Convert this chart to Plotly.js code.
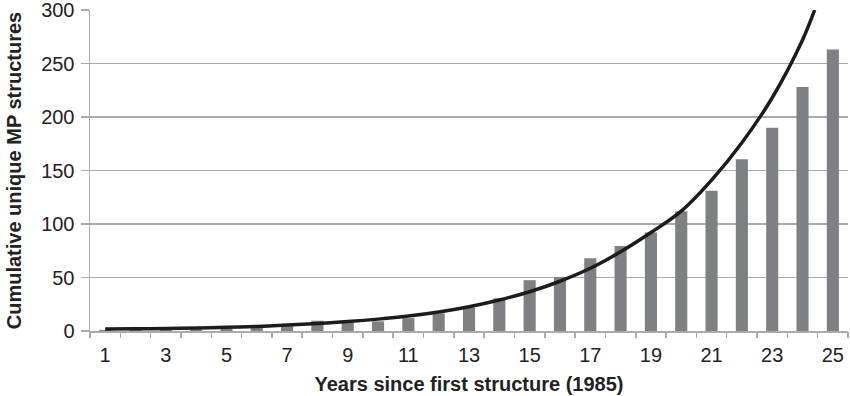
<!DOCTYPE html>
<html>
<head>
<meta charset="utf-8">
<script src="https://cdn.plot.ly/plotly-3.0.1.min.js"></script>
<style>html,body{margin:0;padding:0;background:#fff;}#chart{width:850px;height:396px;}</style>
</head>
<body>
<div id="chart"></div>
<script>
const years = [1,2,3,4,5,6,7,8,9,10,11,12,13,14,15,16,17,18,19,20,21,22,23,24,25];
const structures = [1,1,1,2,2,3.5,4.5,9.6,7.5,9,12,16.5,22,30.5,47.5,50.5,68,79.5,92,112,131,160.5,190,228,263];
const trendX = [1,2,3,4,5,6,7,8,9,10,11,12,13,14,15,16,17,18,19,20,21,22,23,24,24.4];
const trendY = [1.8,2.0,2.3,2.8,3.4,4.3,5.5,7,8.8,11.1,14,17.8,22.7,29,36.7,46.5,58.6,74,92,112,141,176,218,272,300];
const tickYears = [1,3,5,7,9,11,13,15,17,19,21,23,25];
const tickLabels = tickYears.map(String);
const boundaries = years.map(v => v - 0.5).concat([25.5]);

const fontFam = '"Liberation Sans", Arial, sans-serif';
const gridCol = '#ababab';

const data = [
  {type:'bar', x: years, y: structures, width: 0.4, marker:{color:'#7f8084'}, xaxis:'x', yaxis:'y', hoverinfo:'skip'},
  {type:'scatter', mode:'lines', x: trendX, y: trendY, line:{color:'#1c1c1c', width:3.5, shape:'spline', smoothing:1}, xaxis:'x', yaxis:'y', hoverinfo:'skip'},
  {type:'scatter', x:[0.5], y:[0], xaxis:'x2', yaxis:'y', mode:'markers', marker:{opacity:0}, hoverinfo:'skip'}
];

const layout = {
  width: 850, height: 396,
  margin: {l: 89.5, r: 2, t: 10, b: 65},
  paper_bgcolor: '#fff', plot_bgcolor: '#fff',
  showlegend: false,
  font: {family: fontFam, color: '#222', size: 20},
  xaxis: {
    range: [0.5, 25.5], tickvals: tickYears, ticktext: tickLabels,
    ticks: '', showgrid: false, zeroline: false,
    showline: true, linecolor: gridCol, linewidth: 1.5,
    tickfont: {size: 20, color: '#222', family: fontFam},
    ticklabelstandoff: 5,
    title: {text: '<b>Years since first structure (1985)</b>', font: {size: 20, family: fontFam, color: '#222'}, standoff: 12}
  },
  xaxis2: {
    overlaying: 'x', anchor: 'y', side: 'bottom',
    range: [0.5, 25.5], tickvals: boundaries, showticklabels: false,
    ticks: 'outside', ticklen: 6, tickwidth: 1.5, tickcolor: gridCol,
    showgrid: false, zeroline: false, showline: false
  },
  yaxis: {
    range: [0, 300], tickvals: [0,50,100,150,200,250,300],
    ticks: 'outside', ticklen: 8, tickwidth: 1.5, tickcolor: gridCol,
    showgrid: true, gridcolor: gridCol, gridwidth: 1.5,
    zeroline: false, showline: true, linecolor: gridCol, linewidth: 1.5,
    tickfont: {size: 20, color: '#222', family: fontFam},
    ticklabelstandoff: 2, ticklabeloverflow: 'allow',
    title: {text: '<b>Cumulative unique MP structures</b>', font: {size: 20, family: fontFam, color: '#222'}, standoff: 14}
  }
};

Plotly.newPlot('chart', data, layout, {staticPlot: true});
</script>
</body>
</html>
